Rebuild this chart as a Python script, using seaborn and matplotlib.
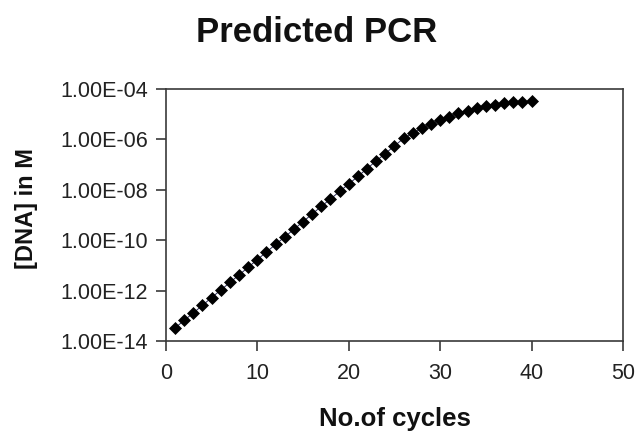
import numpy as np
import pandas as pd
import matplotlib
matplotlib.use("Agg")
import matplotlib.pyplot as plt
from matplotlib.ticker import FixedLocator, FuncFormatter, NullLocator
import seaborn as sns

# ==========================================
# DATA
# ==========================================
cycles = list(range(1, 41))
dna_conc = [
    3.3e-14, 6.6e-14, 1.3e-13, 2.6e-13, 5.3e-13,
    1.05e-12, 2.1e-12, 4.2e-12, 8.4e-12, 1.7e-11,
    3.4e-11, 6.8e-11, 1.35e-10, 2.7e-10, 5.4e-10,
    1.1e-09, 2.2e-09, 4.3e-09, 8.6e-09, 1.7e-08,
    3.4e-08, 6.9e-08, 1.4e-07, 2.75e-07, 5.5e-07,
    1.1e-06, 1.75e-06, 2.75e-06, 4.1e-06, 5.9e-06,
    8.1e-06, 1.1e-05, 1.4e-05, 1.8e-05, 2.1e-05,
    2.4e-05, 2.7e-05, 2.95e-05, 3.15e-05, 3.3e-05,
]
y_ticks = [1e-14, 1e-12, 1e-10, 1e-08, 1e-06, 1e-04]
x_ticks = [0, 10, 20, 30, 40, 50]

df = pd.DataFrame({"cycle": cycles, "dna": dna_conc})

# ==========================================
# PLOT
# ==========================================
sns.set_style("ticks")
plt.rcParams["font.family"] = ["Liberation Sans", "DejaVu Sans"]

fig = plt.figure(figsize=(6.38, 4.32), dpi=100)
ax = fig.add_axes([0.260, 0.2106, 0.7165, 0.5834])

sns.lineplot(data=df, x="cycle", y="dna", ax=ax, color="#2b2b55", linewidth=0.7,
             marker="D", markersize=6.3, markerfacecolor="black",
             markeredgecolor="black", markeredgewidth=0.5)

ax.set_yscale("log")
ax.set_xlim(0, 50)
ax.set_ylim(1e-14, 1e-04)
ax.xaxis.set_major_locator(FixedLocator(x_ticks))
ax.yaxis.set_major_locator(FixedLocator(y_ticks))
ax.yaxis.set_minor_locator(NullLocator())
ax.yaxis.set_major_formatter(FuncFormatter(lambda v, p: f"{v:.2E}"))

for s in ax.spines.values():
    s.set_visible(True)
    s.set_color("#3a3a3a")
    s.set_linewidth(1.2)

ax.tick_params(axis="both", direction="out", length=7, width=1.2, color="#3a3a3a",
               labelsize=15.5, labelcolor="#222222")
ax.tick_params(axis="x", pad=9)
ax.tick_params(axis="y", pad=6)

ax.set_xlabel("No.of cycles", fontsize=18.5, fontweight="bold", color="#111111")
ax.set_ylabel("[DNA] in M", fontsize=17, fontweight="bold", color="#111111")
ax.xaxis.set_label_coords(0.5, -0.31)
ax.yaxis.set_label_coords(-0.305, 0.525)
ax.xaxis.label.set_va("center")
ax.yaxis.label.set_va("center")

fig.text(0.497, 0.924, "Predicted PCR", fontsize=25, fontweight="bold",
         ha="center", va="center", color="#111111")

fig.savefig("out.png", dpi=100)
